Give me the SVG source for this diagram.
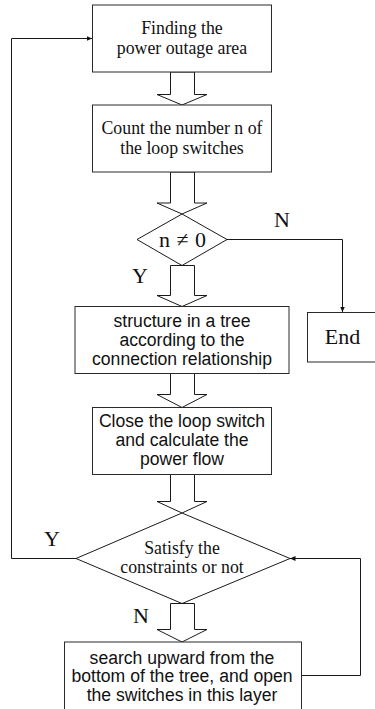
<svg xmlns="http://www.w3.org/2000/svg" width="375" height="709" viewBox="0 0 375 709">
  <style>
    .box { fill: #ffffff; stroke: #2a2a2a; stroke-width: 1; }
    .fat { fill: #ffffff; stroke: #1a1a1a; stroke-width: 1; stroke-linejoin: miter; }
    .line { fill: none; stroke: #1a1a1a; stroke-width: 1; }
    .serif { font-family: "Liberation Serif", "Times New Roman", serif; font-size: 17.8px; fill: #111; text-anchor: middle; }
    .sans { font-family: "Liberation Sans", Arial, sans-serif; font-size: 17.6px; fill: #111; text-anchor: middle; }
    .lbl { font-family: "Liberation Serif", "Times New Roman", serif; font-size: 22px; fill: #111; text-anchor: middle; }
  </style>
  <defs>
    <marker id="tip" markerUnits="userSpaceOnUse" markerWidth="6" markerHeight="6" refX="5.5" refY="3" orient="auto">
      <path d="M0,0.5 L5.5,3 L0,5.5 z" fill="#111"/>
    </marker>
  </defs>

  <rect width="375" height="709" fill="#ffffff"/>

  <!-- connectors: hollow block arrows and thin routed lines -->
  <g id="connectors">
    <polygon class="fat" points="170.5,72 170.5,94.5 157,94.5 182,105 207,94.5 194.5,94.5 194.5,72"/>
    <polygon class="fat" points="170.5,172 170.5,203 157,203 182,214 207,203 194.5,203 194.5,172"/>
    <polygon class="fat" points="170.5,265.5 170.5,295.5 157,295.5 182,306.5 207,295.5 194.5,295.5 194.5,265.5"/>
    <polygon class="fat" points="170.5,373.5 170.5,394.5 157,394.5 182,407.5 207,394.5 194.5,394.5 194.5,373.5"/>
    <polygon class="fat" points="170.5,474.5 170.5,501.5 157,501.5 182,513 207,501.5 194.5,501.5 194.5,474.5"/>
    <polygon class="fat" points="170.5,603.5 170.5,629.5 157,629.5 182,642 207,629.5 194.5,629.5 194.5,603.5"/>

    <polyline class="line" points="227,239.5 342.5,239.5 342.5,312" marker-end="url(#tip)"/>
    <polyline class="line" points="76,558.5 11.5,558.5 11.5,38.5 92,38.5" marker-end="url(#tip)"/>
    <polyline class="line" points="301,675.5 360.5,675.5 360.5,558.5 290,558.5" marker-end="url(#tip)"/>

    <text class="lbl" x="282" y="227">N</text>
    <text class="lbl" x="140" y="283">Y</text>
    <text class="lbl" x="52" y="546">Y</text>
    <text class="lbl" x="141" y="623">N</text>
  </g>

  <g id="find-area">
    <rect class="box" x="92.5" y="5" width="179" height="67"/>
    <text class="serif" x="182" y="33.5">Finding the</text>
    <text class="serif" x="182" y="53.5">power outage area</text>
  </g>

  <g id="count-switches">
    <rect class="box" x="92.5" y="105" width="179" height="67"/>
    <text class="serif" x="182" y="133.5">Count the number n of</text>
    <text class="serif" x="182" y="153.5">the loop switches</text>
  </g>

  <g id="check-n">
    <polygon class="line" points="182,214 227,239.5 182,265.5 137,239.5"/>
    <text class="lbl" x="182.5" y="247" font-size="23px" textLength="47" lengthAdjust="spacing">n≠0</text>
  </g>

  <g id="end">
    <rect class="box" x="307.5" y="312.5" width="70" height="49.5"/>
    <text class="lbl" x="342.5" y="343.5">End</text>
  </g>

  <g id="build-tree">
    <rect class="box" x="75" y="306.5" width="214" height="67"/>
    <text class="sans" x="182" y="326.5">structure in a tree</text>
    <text class="sans" x="182" y="345.8">according to the</text>
    <text class="sans" x="182" y="365">connection relationship</text>
  </g>

  <g id="close-switch">
    <rect class="box" x="92.5" y="407.5" width="179" height="67"/>
    <text class="sans" x="182" y="426.5">Close the loop switch</text>
    <text class="sans" x="182" y="446">and calculate the</text>
    <text class="sans" x="182" y="465">power flow</text>
  </g>

  <g id="check-constraints">
    <polygon class="line" points="182,513 290,558.5 182,603.5 76,558.5"/>
    <text class="serif" x="182" y="554">Satisfy the</text>
    <text class="serif" x="182" y="573">constraints or not</text>
  </g>

  <g id="open-switches">
    <rect class="box" x="64.5" y="642" width="237" height="80"/>
    <text class="sans" x="182" y="663.5">search upward from the</text>
    <text class="sans" x="182" y="682">bottom of the tree, and open</text>
    <text class="sans" x="182" y="701">the switches in this layer</text>
  </g>
</svg>
